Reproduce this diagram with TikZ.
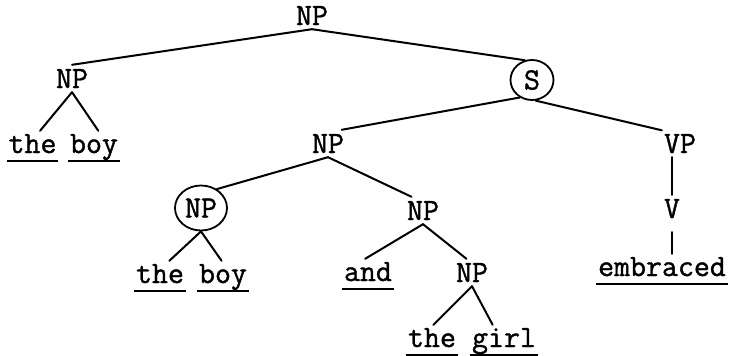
\documentclass[tikz,border=0pt]{standalone}
\usepackage{fontspec}
\newfontfamily\typew[FakeBold=1.2]{Latin Modern Mono}
\usetikzlibrary{shapes.geometric}
\begin{document}
\begin{tikzpicture}[x=1pt,y=-1pt,
  every node/.style={font=\fontsize{31}{33}\selectfont\typew},
  cat/.style={inner xsep=2pt, inner ysep=4pt, text height=19pt, text depth=0pt, anchor=base},
  word/.style={inner xsep=1.5pt, inner ysep=3pt, text height=19pt, text depth=7pt, anchor=base},
  ring/.style={ellipse, draw, line width=1.8pt, inner sep=0pt, text height=19pt, text depth=0pt},
  branch/.style={line width=2pt, line cap=round},
  uline/.style={line width=1.4pt}]
\useasboundingbox (0,0) rectangle (729,356);
% categories
\node[cat] (np0) at (312,25) {NP};
\node[cat] (np1) at (72,88) {NP};
\node[ring, minimum width=43pt, minimum height=40pt] (s) at (532,80) {S};
\node[cat] (np2) at (328,153) {NP};
\node[cat] (vp) at (680,153) {VP};
\node[ring, minimum width=52pt, minimum height=45pt] (npc) at (201,208) {NP};
\node[cat] (np3) at (423,220) {NP};
\node[cat] (v) at (672,218) {V};
\node[cat] (np4) at (472,282) {NP};
% words
\node[word] (the1) at (32.5,153) {the};
\node[word] (boy1) at (94,153) {boy};
\node[word] (the2) at (160,283) {the};
\node[word] (boy2) at (223,283) {boy};
\node[word] (andw) at (368,281) {and};
\node[word] (embraced) at (662,276) {embraced};
\node[word] (the3) at (432,347) {the};
\node[word] (girl) at (504,347) {girl};
% branches
\draw[branch] (np0.south) -- (np1.north);
\draw[branch] (np0.south) -- (s.110);
\draw[branch] (np1.south) -- (the1.65);
\draw[branch] (np1.south) -- (boy1.75);
\draw[branch] (s.235) -- (np2.45);
\draw[branch] (s.280) -- (vp.144);
\draw[branch] (vp.south -| v.north) -- (v.north);
\draw[branch, shorten <=10pt] (v.south) -- (v.south |- embraced.north);
\draw[branch] (np2.south) -- (npc.50);
\draw[branch] (np2.south) -- (np3.130);
\draw[branch] (npc.south) -- (the2.60);
\draw[branch] (npc.south) -- (boy2.95);
\draw[branch] (np3.south) -- (andw.100);
\draw[branch] (np3.south) -- (np4.112);
\draw[branch] (np4.south) -- (the3.85);
\draw[branch] (np4.south) -- (girl.125);
% underlines
\foreach \w in {the1,boy1,the2,boy2,andw,embraced,the3,girl}
  \draw[uline] ([yshift=-8pt]\w.base west) -- ([yshift=-8pt]\w.base east);
\end{tikzpicture}
\end{document}
